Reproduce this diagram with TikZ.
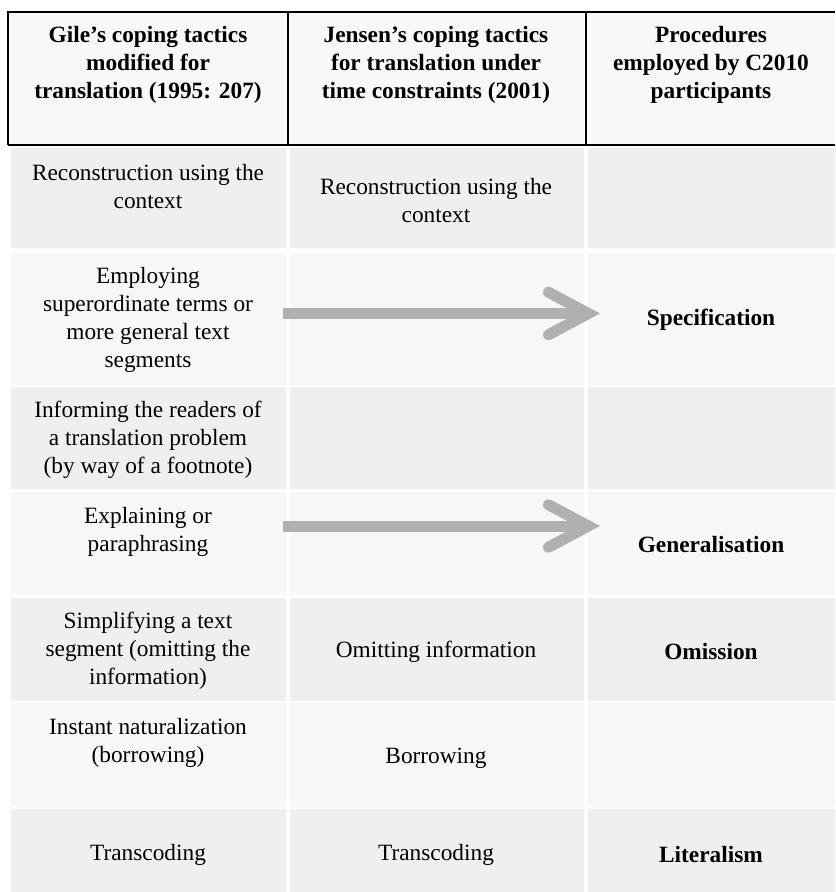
\documentclass[tikz,border=0pt]{standalone}
\usepackage{fontspec}
\setmainfont{Liberation Serif}[Ligatures=TeX]
\newfontfamily\timesfont{Liberation Serif}[Ligatures=TeX]
\usetikzlibrary{arrows.meta}
\definecolor{rowdark}{HTML}{EFEFEF}
\definecolor{rowlight}{HTML}{F7F7F7}
\definecolor{headfill}{HTML}{F8F8F8}
\definecolor{arrowgray}{HTML}{B0B0B0}

\begin{document}
\begin{tikzpicture}[x=0.75pt,y=-0.75pt,
    cell/.style={align=center,font=\timesfont\fontsize{17.5}{21}\selectfont},
    head/.style={cell,font=\timesfont\fontsize{17.5}{21}\selectfont\bfseries},
    proc/.style={cell,font=\timesfont\fontsize{17.5}{21}\selectfont\bfseries},
    tactic/.style={draw=arrowgray,line width=8.25pt,
      -{Straight Barb[length=30pt,width=32pt,line cap=round,line join=miter]}}]
          \useasboundingbox (0,0) rectangle (835,892);
          \foreach \top/\bot/\col in {148/248/rowdark,253/385/rowlight,387/489/rowdark,
              492/595/rowlight,598/701/rowdark,703/807/rowlight,809/892/rowdark}
            \fill[\col] (11,\top) rectangle (286,\bot)
              (290,\top) rectangle (584,\bot)
              (588,\top) rectangle (835,\bot);
          \fill[headfill] (8,12) rectangle (835,145);
          \draw[line width=1.1pt] (835,12) -- (8,12) -- (8,145)
            (288,12) -- (288,145) (586,12) -- (586,145);
          \draw[line width=1.8pt] (8,145) -- (835,145);
          \node[head] (gile) at (148,65) {Gile's coping tactics\\modified for\\translation (1995: 207)};
          \node[head] (jensen) at (436,65) {Jensen's coping tactics\\for translation under\\time constraints (2001)};
          \node[head] (procs) at (711,65) {Procedures\\employed by C2010\\participants};
          \node[cell] (gileA) at (148,187) {Reconstruction using the\\context};
          \node[cell] (jensenA) at (436,201) {Reconstruction using the\\context};
          \node[cell] (gileB) at (148,320) {Employing\\superordinate terms or\\more general text\\segments};
          \node[proc] (spec) at (711,320) {Specification};
          \node[cell] (gileC) at (148,440) {Informing the readers of\\a translation problem\\(by way of a footnote)};
          \node[cell] (gileD) at (148,532) {Explaining or\\paraphrasing};
          \node[proc] (gen) at (711,545) {Generalisation};
          \node[cell] (gileE) at (148,651) {Simplifying a text\\segment (omitting the\\information)};
          \node[cell] (jensenE) at (436,652) {Omitting information};
          \node[proc] (omis) at (711,652) {Omission};
          \node[cell] (gileF) at (148,743) {Instant naturalization\\(borrowing)};
          \node[cell] (jensenF) at (436,758) {Borrowing};
          \node[cell] (gileG) at (148,855) {Transcoding};
          \node[cell] (jensenG) at (436,855) {Transcoding};
          \node[proc] (lit) at (711,855) {Literalism};
          \coordinate (specFrom) at (283,313.5);
          \coordinate (specTo) at (600,313.5);
          \coordinate (genFrom) at (283,526);
          \coordinate (genTo) at (600,526);
          \draw[tactic] (specFrom) -- (specTo);
          \draw[tactic] (genFrom) -- (genTo);
        \end{tikzpicture}
\end{document}
